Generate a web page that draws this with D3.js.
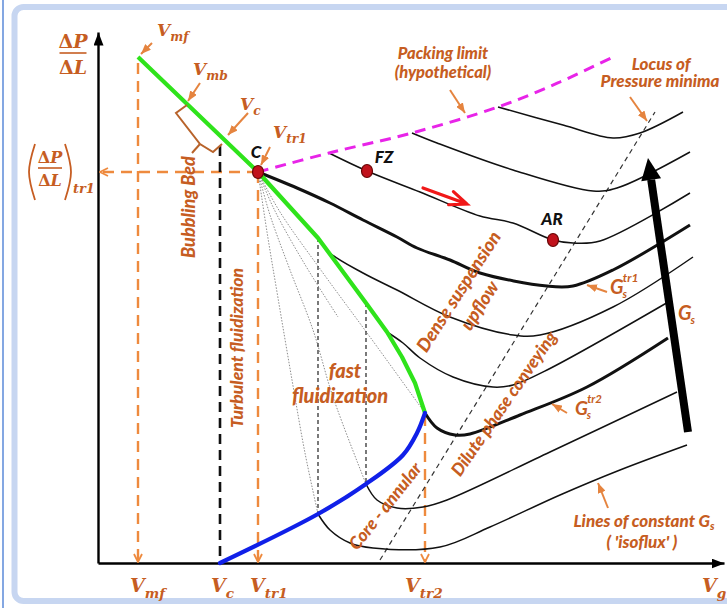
<!DOCTYPE html>
<html>
<head>
<meta charset="utf-8">
<script src="https://cdn.jsdelivr.net/npm/d3@7"></script>
<style>
  body { margin: 0; background: #fff; }
  svg { display: block; }
</style>
</head>
<body>
<svg id="chart" width="727" height="608"></svg>
<script>
// Schematic regime map of a fluidized bed: pressure gradient vs gas velocity.
// Values are in arbitrary schematic units.

// Characteristic velocities and the transition pressure gradient
const velocityMarks = [
  { key: "mf",  v: 4.0 },
  { key: "c",   v: 12.2 },
  { key: "tr1", v: 16.0 },
  { key: "tr2", v: 32.7 }
];
const dpTr1 = 39.1;

// Green transition line from minimum fluidization through C to Vtr2
const transitionLine = [[4.0,50.6],[16.0,39.1],[22.0,32.5],[26.8,26.0],[28.9,23.1],[30.4,20.6],[31.7,18.0],[32.7,15.0]];
// Blue boundary of the core-annular region
const coreAnnularLine = [[12.2,0],[22.0,4.9],[26.8,7.9],[30.5,10.8],[31.9,13.0],[32.7,15.0]];
// Hypothetical packing limit
const packingLimit = [[16.0,39.1],[23.1,41.0],[31.4,43.0],[40.0,45.6],[46.2,48.1],[51.5,50.6]];
// Locus of pressure minima
const minimaLocus = [[28.2,0.3],[55.7,45.1]];

// Lines of constant solids flux (isoflux), top to bottom
const isofluxLines = [
  { bold: false, pts: [[40.0,45.6],[46.5,43.8],[51.5,42.5],[54.2,43.0],[58.5,45.1]] },
  { bold: false, pts: [[31.4,43.0],[33.9,42.0],[41.5,39.3],[49.5,37.2],[51.9,37.5],[59.2,41.1]] },
  { bold: false, pts: [[23.1,41.0],[26.9,39.2],[32.2,37.1],[38.2,34.7],[41.5,34.0],[45.5,32.3],[47.5,32.0],[50.2,32.2],[59.2,37.0]] },
  { bold: true,  pts: [[16.0,39.1],[19.9,37.5],[23.2,36.0],[26.5,34.3],[29.9,32.6],[31.9,31.5],[35.2,30.3],[38.2,29.0],[44.9,27.7],[47.5,27.7],[51.5,29.3],[59.2,33.8]] },
  { bold: false, pts: [[22.0,32.5],[23.2,31.0],[26.5,29.0],[29.9,27.3],[35.2,24.6],[41.5,22.8],[44.2,22.8],[51.5,25.6],[59.5,30.6]] },
  { bold: false, pts: [[28.9,23.1],[30.5,22.0],[32.2,20.5],[35.5,18.6],[39.5,17.6],[41.5,17.8],[44.9,19.3],[57.2,26.2]] },
  { bold: true,  pts: [[32.7,15.0],[33.9,13.5],[35.7,12.8],[37.2,12.9],[42.2,14.8],[48.9,17.6],[57.0,22.5]] },
  { bold: false, pts: [[26.8,7.9],[27.9,6.3],[29.9,5.5],[32.5,5.6],[34.9,6.3],[45.2,11.1],[57.9,17.1]] },
  { bold: false, pts: [[22.0,4.9],[23.2,3.3],[25.2,2.0],[27.5,1.5],[34.2,1.6],[39.2,3.6],[46.2,6.8],[52.2,9.3],[58.9,11.8]] }
];

// Faint dotted fan of trajectories leaving point C
const fanLines = [
  [[16.0,39.1],[16.9,33.1],[18.0,26.5],[19.4,18.3],[20.7,11.0],[22.0,4.9]],
  [[16.0,39.1],[17.2,34.8],[19.2,29.3],[21.5,23.3],[23.5,16.6],[26.8,7.9]],
  [[16.0,39.1],[17.6,35.4],[20.6,30.0],[24.0,24.6]],
  [[16.0,39.1],[18.2,35.1],[22.5,29.0],[27.2,22.6],[32.7,15.0]]
];

// Dashed verticals joining the transition line and the core-annular line
const linkVerticals = [[22.0,32.5,4.9],[26.8,26.0,7.9]];

// Marked states
const points = [
  { name: "C",  v: 16.0, w: 39.1, lx: 15.8, ly: 40.5 },
  { name: "FZ", v: 26.9, w: 39.2, lx: 28.6, ly: 40.0 },
  { name: "AR", v: 45.5, w: 32.3, lx: 45.4, ly: 33.8 }
];

// ---------------------------------------------------------------
const W = 727, H = 608;
const orange = "#c65d22", dashOrange = "#ee8a3e", arrowOrange = "#e5843f";
const sans = "Lato, 'Open Sans', sans-serif";
const serif = "'DejaVu Serif', serif";

const x = d3.scaleLinear().domain([0, 62.6]).range([98, 724]);
const y = d3.scaleLinear().domain([0, 53.1]).range([563, 32]);

const svg = d3.select("#chart");

// page frame
svg.append("rect").attr("width", W).attr("height", H).attr("fill", "#fff");
svg.append("line").attr("x1", 3).attr("x2", 3).attr("y1", 0).attr("y2", H)
  .attr("stroke", "#5b8ad8").attr("stroke-width", 1.5);
svg.append("rect").attr("x", 14.5).attr("y", 7).attr("width", 770).attr("height", 594)
  .attr("rx", 9).attr("fill", "#fff").attr("stroke", "#c7d6f1").attr("stroke-width", 6);

// markers
const defs = svg.append("defs");
function marker(id, color, len, half) {
  defs.append("marker").attr("id", id)
    .attr("markerUnits", "userSpaceOnUse")
    .attr("viewBox", `0 0 ${len} ${half * 2}`)
    .attr("refX", len).attr("refY", half)
    .attr("markerWidth", len).attr("markerHeight", half * 2)
    .attr("orient", "auto")
    .append("path").attr("d", `M0,0L${len},${half}L0,${half * 2}Z`).attr("fill", color);
}
marker("ah-black", "#000", 13, 5);
marker("ah-orange", arrowOrange, 10, 4);
defs.append("marker").attr("id", "ah-chev")
  .attr("markerUnits", "userSpaceOnUse").attr("viewBox", "0 0 10 10")
  .attr("refX", 9).attr("refY", 5).attr("markerWidth", 10).attr("markerHeight", 10)
  .attr("orient", "auto")
  .append("path").attr("d", "M1,1L9,5L1,9").attr("fill", "none")
  .attr("stroke", dashOrange).attr("stroke-width", 1.8);

const smooth = d3.line().x(d => x(d[0])).y(d => y(d[1])).curve(d3.curveCatmullRom.alpha(0.5));
const straight = d3.line().x(d => x(d[0])).y(d => y(d[1]));

// axes
const gx = svg.append("g").attr("transform", `translate(0,${y(0)})`)
  .call(d3.axisBottom(x).tickValues([]).tickSizeOuter(0));
gx.select(".domain").attr("stroke", "#000").attr("stroke-width", 2.6).attr("marker-end", "url(#ah-black)");
const gy = svg.append("g").attr("transform", `translate(${x(0)},0)`)
  .call(d3.axisLeft(y).tickValues([]).tickSizeOuter(0));
gy.select(".domain").attr("stroke", "#000").attr("stroke-width", 2.4).attr("marker-end", "url(#ah-black)");

// orange dashed reference lines
const mv = Object.fromEntries(velocityMarks.map(d => [d.key, d.v]));
const refDrops = [[mv.mf, 50.0], [mv.tr1, dpTr1], [mv.tr2, 14.8]];
svg.append("g").selectAll("path").data(refDrops).join("path")
  .attr("d", d => straight([[d[0], d[1]], [d[0], 0.1]]))
  .attr("stroke", dashOrange).attr("stroke-width", 2.4).attr("fill", "none")
  .attr("stroke-dasharray", "11,7").attr("marker-end", "url(#ah-chev)");
svg.append("path").attr("d", straight([[mv.tr1, dpTr1], [0.2, dpTr1]]))
  .attr("stroke", dashOrange).attr("stroke-width", 2.4).attr("fill", "none")
  .attr("stroke-dasharray", "11,7").attr("marker-end", "url(#ah-chev)");

// black dashed line at Vc
svg.append("path").attr("d", straight([[mv.c, 41.7], [mv.c, 0]]))
  .attr("stroke", "#111").attr("stroke-width", 2.6).attr("stroke-dasharray", "10,6").attr("fill", "none");

// dotted fan
svg.append("g").selectAll("path").data(fanLines).join("path")
  .attr("d", smooth).attr("fill", "none").attr("stroke", "#8d8d8d")
  .attr("stroke-width", 1).attr("stroke-dasharray", "1.5,1.5");

// connecting dashed verticals
svg.append("g").selectAll("path").data(linkVerticals).join("path")
  .attr("d", d => straight([[d[0], d[1]], [d[0], d[2]]]))
  .attr("stroke", "#222").attr("stroke-width", 1.2).attr("stroke-dasharray", "4,3").attr("fill", "none");

// locus of pressure minima
svg.append("path").attr("d", straight(minimaLocus)).attr("fill", "none")
  .attr("stroke", "#333").attr("stroke-width", 1.2).attr("stroke-dasharray", "5,4");

// isoflux lines
svg.append("g").selectAll("path").data(isofluxLines).join("path")
  .attr("d", d => smooth(d.pts)).attr("fill", "none").attr("stroke", "#111")
  .attr("stroke-width", d => d.bold ? 3 : 1.5).attr("stroke-linejoin", "round");

// packing limit
svg.append("path").attr("d", smooth(packingLimit)).attr("fill", "none")
  .attr("stroke", "#e824e8").attr("stroke-width", 3).attr("stroke-dasharray", "11,7");

// transition and core-annular lines
svg.append("path").attr("d", straight(transitionLine)).attr("fill", "none")
  .attr("stroke", "#2fe31b").attr("stroke-width", 4.2).attr("stroke-linejoin", "round");
svg.append("path").attr("d", smooth(coreAnnularLine)).attr("fill", "none")
  .attr("stroke", "#1020e8").attr("stroke-width", 4.2).attr("stroke-linecap", "round");

// bubbling bed bracket
const bracket = [[8.9,45.8],[7.8,45.0],[10.2,41.9],[11.5,41.1],[12.4,41.9]];
svg.append("path").attr("d", straight(bracket)).attr("fill", "none")
  .attr("stroke", "#b8632b").attr("stroke-width", 2);
svg.append("path").attr("d", straight([[10.2,41.9],[9.4,41.0]])).attr("fill", "none")
  .attr("stroke", "#b8632b").attr("stroke-width", 2);

// big G_s arrow
(function () {
  const b = [x(59.0), y(13.1)], t = [x(55.0), y(40.5)];
  const dx = t[0] - b[0], dy = t[1] - b[1], L = Math.hypot(dx, dy);
  const ux = dx / L, uy = dy / L, px = -uy, py = ux;
  const hl = 22, hw = 10;
  const base = [t[0] - ux * hl, t[1] - uy * hl];
  svg.append("line").attr("x1", b[0]).attr("y1", b[1]).attr("x2", base[0]).attr("y2", base[1])
    .attr("stroke", "#000").attr("stroke-width", 8);
  svg.append("path").attr("d",
    `M${t[0]},${t[1]}L${base[0] + px * hw},${base[1] + py * hw}L${base[0] - px * hw},${base[1] - py * hw}Z`)
    .attr("fill", "#000");
})();

// red direction arrow
(function () {
  const a = [x(32.5), y(37.5)], t = [x(36.9), y(35.9)];
  const dx = t[0] - a[0], dy = t[1] - a[1], L = Math.hypot(dx, dy);
  const ux = dx / L, uy = dy / L, px = -uy, py = ux;
  const hl = 17, hw = 7;
  svg.append("path").attr("d",
    `M${a[0]},${a[1]}L${t[0]},${t[1]}M${t[0] - ux * hl + px * hw},${t[1] - uy * hl + py * hw}L${t[0]},${t[1]}L${t[0] - ux * hl - px * hw},${t[1] - uy * hl - py * hw}`)
    .attr("fill", "none").attr("stroke", "#f01818").attr("stroke-width", 3.2)
    .attr("stroke-linecap", "round").attr("stroke-linejoin", "miter");
})();

// labelled points
svg.append("g").selectAll("ellipse").data(points).join("ellipse")
  .attr("cx", d => x(d.v)).attr("cy", d => y(d.w)).attr("rx", 5.5).attr("ry", 6.5)
  .attr("fill", "#c1121c").attr("stroke", "#6a0505").attr("stroke-width", 1.2);
svg.append("g").selectAll("text").data(points).join("text")
  .attr("x", d => x(d.lx)).attr("y", d => y(d.ly)).attr("text-anchor", "middle")
  .attr("font-family", sans).attr("font-weight", 900).attr("font-style", "italic")
  .attr("font-size", 17).attr("fill", "#111").text(d => d.name);

// annotation arrows (orange)
const pointers = [
  [[5.4,52.0],[4.3,50.9]],
  [[10.2,48.0],[9.0,46.2]],
  [[15.0,45.0],[13.0,42.8]],
  [[17.2,41.6],[16.3,39.8]],
  [[35.2,47.3],[36.7,45.0]],
  [[53.2,46.6],[54.9,44.2]],
  [[50.9,27.1],[48.9,27.8]],
  [[46.9,15.0],[45.4,15.9]],
  [[51.0,5.5],[50.0,8.0]]
];
svg.append("g").selectAll("path").data(pointers).join("path")
  .attr("d", straight).attr("fill", "none").attr("stroke", arrowOrange)
  .attr("stroke-width", 2).attr("marker-end", "url(#ah-orange)");

// V labels
function vLabel(v, w, sub, size) {
  const t = svg.append("text").attr("x", x(v)).attr("y", y(w))
    .attr("font-family", serif).attr("font-weight", "bold").attr("font-style", "italic")
    .attr("font-size", size).attr("fill", orange);
  t.append("tspan").text("V");
  t.append("tspan").attr("font-size", size * 0.72).attr("dy", size * 0.3).text(sub);
}
vLabel(5.9, 52.7, "mf", 17);
vLabel(9.5, 48.8, "mb", 17);
vLabel(14.2, 45.3, "c", 17);
vLabel(17.5, 42.5, "tr1", 17);
const bottomLabels = [["mf", 3.2], ["c", 11.3], ["tr1", 15.2], ["tr2", 30.7], ["g", 60.4]];
bottomLabels.forEach(d => vLabel(d[1], -2.9, d[0], 19));

// axis title ΔP/ΔL
function fraction(cx, wTop, wBar, wBot, half, size) {
  const g = svg.append("g").attr("fill", orange).attr("font-family", serif)
    .attr("font-weight", "bold").attr("font-size", size).attr("text-anchor", "middle");
  const a = g.append("text").attr("x", x(cx)).attr("y", y(wTop));
  a.append("tspan").text("Δ");
  a.append("tspan").attr("font-style", "italic").text("P");
  const b = g.append("text").attr("x", x(cx)).attr("y", y(wBot));
  b.append("tspan").text("Δ");
  b.append("tspan").attr("font-style", "italic").text("L");
  svg.append("path").attr("d", straight([[cx - half, wBar], [cx + half, wBar]]))
    .attr("stroke", orange).attr("stroke-width", 1.6);
}
fraction(-2.5, 51.5, 51.0, 48.9, 1.35, 19);
fraction(-4.8, 40.0, 39.5, 37.7, 1.2, 16);
const paren = d3.line().x(d => x(d[0])).y(d => y(d[1])).curve(d3.curveNatural);
svg.append("path").attr("d", paren([[-6.3,41.9],[-6.9,39.1],[-6.3,36.3]]))
  .attr("fill", "none").attr("stroke", orange).attr("stroke-width", 1.8);
svg.append("path").attr("d", paren([[-3.3,41.9],[-2.7,39.1],[-3.3,36.3]]))
  .attr("fill", "none").attr("stroke", orange).attr("stroke-width", 1.8);
svg.append("text").attr("x", x(-2.5)).attr("y", y(37.0)).attr("fill", orange)
  .attr("font-family", serif).attr("font-weight", "bold").attr("font-style", "italic")
  .attr("font-size", 13).text("tr1");

// text annotations (orange)
function note(v, w, str, size, rot, anchor) {
  return svg.append("text")
    .attr("transform", `translate(${x(v)},${y(w)}) rotate(${rot || 0})`)
    .attr("text-anchor", anchor || "middle")
    .attr("font-family", sans).attr("font-weight", 900).attr("font-style", "italic")
    .attr("font-size", size).attr("fill", orange).text(str);
}
note(34.5, 50.4, "Packing limit", 16.5);
note(34.5, 48.5, "(hypothetical)", 16.5);
note(56.3, 49.3, "Locus of", 17);
note(56.2, 47.6, "Pressure minima", 17);
note(9.7, 35.6, "Bubbling Bed", 18, -90);
note(14.5, 21.5, "Turbulent fluidization", 17.5, -90);
note(24.7, 18.5, "fast", 20);
note(24.2, 16.0, "fluidization", 20);
note(36.6, 26.8, "Dense  suspension", 18.5, -57.3);
note(38.7, 25.4, "upflow", 18.5, -57.3);
note(41.1, 15.6, "Dilute  phase conveying", 17.5, -55.3);
note(29.2, 5.3, "Core - annular", 17.5, -51.6);

// G_s labels: main letter, subscript and superscript as separate texts
function gLabel(v, w, size, sup) {
  const gx0 = x(v), gy0 = y(w);
  const g = svg.append("g").attr("font-family", sans).attr("font-weight", 700)
    .attr("font-style", "italic").attr("fill", orange);
  g.append("text").attr("x", gx0).attr("y", gy0).attr("font-size", size).text("G");
  g.append("text").attr("x", gx0 + size * 0.62).attr("y", gy0 + size * 0.2)
    .attr("font-size", size * 0.55).text("s");
  if (sup) g.append("text").attr("x", gx0 + size * 0.64).attr("y", gy0 - size * 0.62)
    .attr("font-size", size * 0.6).text(sup);
}
gLabel(58.0, 24.3, 20);
gLabel(51.2, 26.9, 20, "tr1");
gLabel(47.7, 14.8, 19, "tr2");

const lc = svg.append("text").attr("x", x(54.6)).attr("y", y(3.6)).attr("text-anchor", "middle")
  .attr("font-family", sans).attr("font-weight", 900).attr("font-style", "italic")
  .attr("font-size", 17).attr("fill", orange);
lc.append("tspan").text("Lines of constant G");
lc.append("tspan").attr("font-size", 11).attr("dy", 3).text("s");
note(54.4, 1.5, "( 'isoflux' )", 17);
</script>
</body>
</html>
